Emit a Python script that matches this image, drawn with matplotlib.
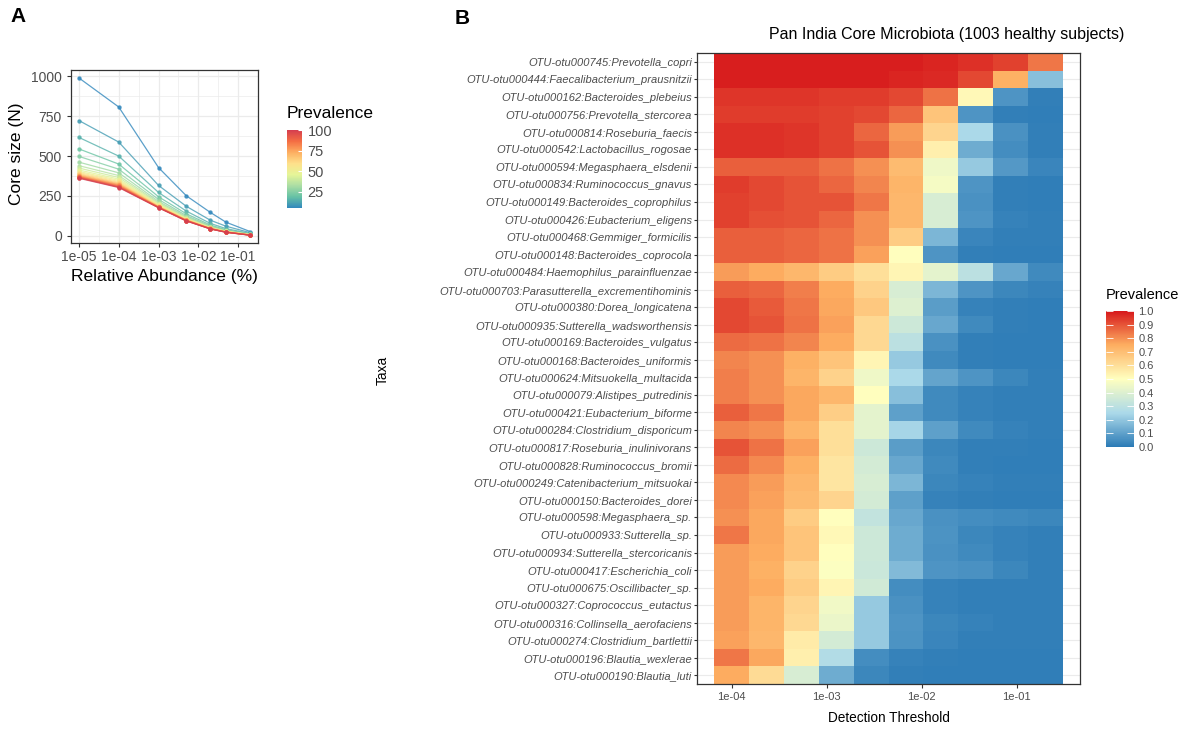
import numpy as np
import matplotlib
matplotlib.use("Agg")
import matplotlib.pyplot as plt
from matplotlib.colors import LinearSegmentedColormap, Normalize
from matplotlib.cm import ScalarMappable
from matplotlib.ticker import FixedLocator, NullFormatter

plt.rcParams['font.family'] = ['Liberation Sans', 'DejaVu Sans']

# ---------------- Panel A data ----------------
abundance = [1e-5, 1e-4, 1e-3, 5e-3, 2e-2, 5e-2, 2e-1]
prevalence_levels = [5, 10, 15, 20, 25, 30, 35, 40, 45, 50,
                     55, 60, 65, 70, 75, 80, 85, 90, 95, 100]
core_size = [
    [990, 808, 428, 251, 147, 85, 27],
    [723, 588, 316, 185, 98, 60, 20],
    [617, 500, 272, 155, 78, 45, 15],
    [545, 450, 245, 138, 68, 38, 12],
    [498, 418, 228, 127, 62, 34, 10],
    [462, 395, 216, 120, 58, 32, 9],
    [440, 378, 208, 115, 55, 30, 8],
    [425, 366, 202, 111, 53, 29, 8],
    [413, 356, 197, 108, 51, 28, 7],
    [404, 348, 193, 106, 50, 27, 7],
    [397, 341, 190, 104, 49, 26, 6],
    [391, 335, 187, 102, 48, 26, 6],
    [386, 330, 185, 100, 47, 25, 6],
    [381, 325, 183, 99, 46, 25, 5],
    [377, 321, 181, 98, 46, 24, 5],
    [373, 317, 180, 97, 45, 24, 5],
    [370, 313, 179, 96, 45, 23, 5],
    [367, 309, 178, 95, 44, 23, 4],
    [364, 306, 177, 94, 44, 22, 4],
    [361, 303, 176, 93, 43, 22, 4],
]
abundance_ticks = [1e-5, 1e-4, 1e-3, 1e-2, 1e-1]
abundance_ticklabels = ['1e-05', '1e-04', '1e-03', '1e-02', '1e-01']
core_ticks = [0, 250, 500, 750, 1000]

# ---------------- Panel B data ----------------
taxa = [
    "OTU-otu000745:Prevotella_copri",
    "OTU-otu000444:Faecalibacterium_prausnitzii",
    "OTU-otu000162:Bacteroides_plebeius",
    "OTU-otu000756:Prevotella_stercorea",
    "OTU-otu000814:Roseburia_faecis",
    "OTU-otu000542:Lactobacillus_rogosae",
    "OTU-otu000594:Megasphaera_elsdenii",
    "OTU-otu000834:Ruminococcus_gnavus",
    "OTU-otu000149:Bacteroides_coprophilus",
    "OTU-otu000426:Eubacterium_eligens",
    "OTU-otu000468:Gemmiger_formicilis",
    "OTU-otu000148:Bacteroides_coprocola",
    "OTU-otu000484:Haemophilus_parainfluenzae",
    "OTU-otu000703:Parasutterella_excrementihominis",
    "OTU-otu000380:Dorea_longicatena",
    "OTU-otu000935:Sutterella_wadsworthensis",
    "OTU-otu000169:Bacteroides_vulgatus",
    "OTU-otu000168:Bacteroides_uniformis",
    "OTU-otu000624:Mitsuokella_multacida",
    "OTU-otu000079:Alistipes_putredinis",
    "OTU-otu000421:Eubacterium_biforme",
    "OTU-otu000284:Clostridium_disporicum",
    "OTU-otu000817:Roseburia_inulinivorans",
    "OTU-otu000828:Ruminococcus_bromii",
    "OTU-otu000249:Catenibacterium_mitsuokai",
    "OTU-otu000150:Bacteroides_dorei",
    "OTU-otu000598:Megasphaera_sp.",
    "OTU-otu000933:Sutterella_sp.",
    "OTU-otu000934:Sutterella_stercoricanis",
    "OTU-otu000417:Escherichia_coli",
    "OTU-otu000675:Oscillibacter_sp.",
    "OTU-otu000327:Coprococcus_eutactus",
    "OTU-otu000316:Collinsella_aerofaciens",
    "OTU-otu000274:Clostridium_bartlettii",
    "OTU-otu000196:Blautia_wexlerae",
    "OTU-otu000190:Blautia_luti",
]
detections = [1.0e-4, 2.326e-4, 5.415e-4, 1.2596e-3, 2.930e-3,
              6.822e-3, 1.587e-2, 3.693e-2, 8.594e-2, 2.0e-1]
prevalence_matrix = [
    [0.99, 0.99, 0.99, 0.99, 0.99, 0.99, 0.98, 0.96, 0.93, 0.84],
    [0.99, 0.99, 0.99, 0.99, 0.99, 0.98, 0.97, 0.92, 0.74, 0.18],
    [0.95, 0.95, 0.95, 0.94, 0.94, 0.92, 0.85, 0.52, 0.07, 0.015],
    [0.94, 0.94, 0.94, 0.93, 0.92, 0.87, 0.68, 0.07, 0.015, 0.01],
    [0.96, 0.96, 0.95, 0.93, 0.87, 0.78, 0.63, 0.25, 0.06, 0.015],
    [0.96, 0.96, 0.95, 0.93, 0.90, 0.80, 0.55, 0.13, 0.05, 0.015],
    [0.88, 0.88, 0.88, 0.85, 0.80, 0.71, 0.45, 0.21, 0.08, 0.03],
    [0.94, 0.92, 0.90, 0.87, 0.82, 0.73, 0.47, 0.07, 0.015, 0.01],
    [0.93, 0.92, 0.90, 0.90, 0.84, 0.72, 0.38, 0.06, 0.015, 0.01],
    [0.93, 0.91, 0.90, 0.87, 0.80, 0.72, 0.38, 0.07, 0.02, 0.015],
    [0.88, 0.88, 0.87, 0.85, 0.80, 0.66, 0.16, 0.03, 0.015, 0.015],
    [0.88, 0.88, 0.87, 0.85, 0.77, 0.50, 0.07, 0.015, 0.01, 0.01],
    [0.78, 0.75, 0.72, 0.66, 0.60, 0.53, 0.42, 0.30, 0.12, 0.04],
    [0.88, 0.87, 0.83, 0.75, 0.64, 0.38, 0.16, 0.07, 0.035, 0.02],
    [0.92, 0.89, 0.84, 0.76, 0.67, 0.40, 0.09, 0.02, 0.015, 0.01],
    [0.92, 0.90, 0.85, 0.77, 0.62, 0.35, 0.12, 0.04, 0.015, 0.01],
    [0.86, 0.85, 0.82, 0.75, 0.62, 0.30, 0.06, 0.015, 0.01, 0.01],
    [0.82, 0.80, 0.74, 0.68, 0.53, 0.21, 0.04, 0.015, 0.01, 0.01],
    [0.83, 0.80, 0.73, 0.64, 0.45, 0.25, 0.11, 0.07, 0.035, 0.015],
    [0.83, 0.80, 0.76, 0.72, 0.50, 0.18, 0.04, 0.02, 0.015, 0.015],
    [0.88, 0.84, 0.76, 0.65, 0.42, 0.10, 0.04, 0.02, 0.015, 0.015],
    [0.82, 0.80, 0.73, 0.60, 0.42, 0.24, 0.10, 0.04, 0.02, 0.015],
    [0.90, 0.85, 0.77, 0.60, 0.35, 0.09, 0.035, 0.015, 0.015, 0.01],
    [0.86, 0.81, 0.74, 0.58, 0.37, 0.12, 0.04, 0.015, 0.01, 0.01],
    [0.81, 0.78, 0.72, 0.58, 0.38, 0.16, 0.035, 0.02, 0.015, 0.015],
    [0.81, 0.77, 0.71, 0.63, 0.37, 0.10, 0.02, 0.015, 0.01, 0.01],
    [0.80, 0.76, 0.66, 0.50, 0.32, 0.12, 0.06, 0.05, 0.04, 0.035],
    [0.84, 0.76, 0.68, 0.52, 0.35, 0.13, 0.065, 0.035, 0.02, 0.015],
    [0.78, 0.75, 0.68, 0.50, 0.35, 0.13, 0.06, 0.04, 0.02, 0.015],
    [0.78, 0.74, 0.64, 0.49, 0.34, 0.17, 0.07, 0.06, 0.035, 0.015],
    [0.78, 0.75, 0.66, 0.53, 0.36, 0.05, 0.02, 0.015, 0.015, 0.015],
    [0.78, 0.73, 0.63, 0.46, 0.21, 0.06, 0.02, 0.015, 0.015, 0.015],
    [0.78, 0.73, 0.62, 0.44, 0.21, 0.07, 0.035, 0.02, 0.015, 0.015],
    [0.77, 0.72, 0.56, 0.37, 0.21, 0.065, 0.03, 0.015, 0.015, 0.015],
    [0.84, 0.76, 0.55, 0.27, 0.05, 0.02, 0.015, 0.01, 0.01, 0.01],
    [0.75, 0.61, 0.38, 0.13, 0.035, 0.015, 0.01, 0.01, 0.01, 0.01],
]
detection_ticks = [1e-4, 1e-3, 1e-2, 1e-1]
detection_ticklabels = ['1e-04', '1e-03', '1e-02', '1e-01']
colorbar_ticks_B = [0.0, 0.1, 0.2, 0.3, 0.4, 0.5, 0.6, 0.7, 0.8, 0.9, 1.0]

# ---------------- styling ----------------
W, H = 1196, 729
GRID = '#ebebeb'
BORDER = '#333333'
TICKTXT = '#4d4d4d'

cmapA = LinearSegmentedColormap.from_list(
    'spec', ['#3288bd', '#66c2a5', '#abdda4', '#e6f598', '#fee08b',
             '#fdae61', '#f46d43', '#d53e4f'])
normA = Normalize(vmin=5, vmax=100)
cmapB = LinearSegmentedColormap.from_list(
    'rdylbu', ['#2c7bb6', '#abd9e9', '#ffffbf', '#fdae61', '#d7191c'])
normB = Normalize(vmin=0, vmax=1)

fig = plt.figure(figsize=(W / 100, H / 100), dpi=100)


def fx(px):
    return px / W


def fy(py):
    return 1 - py / H


def style_axes(ax):
    for s in ax.spines.values():
        s.set_color(BORDER)
        s.set_linewidth(0.9)
    ax.tick_params(which='major', color=BORDER, length=3, width=0.8,
                   labelcolor=TICKTXT)
    ax.tick_params(which='minor', length=0)


# ---------------- Panel A ----------------
axA = fig.add_axes([fx(71), fy(243), fx(258 - 71), (243 - 70) / H])
axA.set_xscale('log')
for p, sizes in zip(prevalence_levels, core_size):
    c = cmapA(normA(p))
    axA.plot(abundance, sizes, color=c, lw=0.9, alpha=0.8,
             marker='o', ms=2.2, zorder=3)
axA.set_xlim(10 ** -5.2, 10 ** -0.5)
axA.set_ylim(-45, 1040)
axA.xaxis.set_major_locator(FixedLocator(abundance_ticks))
axA.set_xticklabels(abundance_ticklabels)
axA.xaxis.set_minor_locator(FixedLocator([10 ** -4.5, 10 ** -3.5, 10 ** -2.5,
                                          10 ** -1.5, 10 ** -0.5]))
axA.xaxis.set_minor_formatter(NullFormatter())
axA.yaxis.set_major_locator(FixedLocator(core_ticks))
axA.yaxis.set_minor_locator(FixedLocator([125, 375, 625, 875]))
axA.grid(which='major', color=GRID, lw=0.9, zorder=0)
axA.grid(which='minor', color=GRID, lw=0.5, zorder=0)
axA.set_axisbelow(True)
style_axes(axA)
axA.tick_params(labelsize=10)
axA.tick_params(axis='x', pad=2)

fig.text(fx(17), fy(154), 'Core size (N)', rotation=90, ha='center',
         va='center', fontsize=12.5)
fig.text(fx(164), fy(276), 'Relative Abundance (%)', ha='center',
         va='center', fontsize=12.5)
fig.text(fx(10), fy(17), 'A', ha='left', va='center', fontsize=15,
         fontweight='bold')

# legend A
caxA = fig.add_axes([fx(287), fy(208), fx(302 - 287), (208 - 130) / H])
cbA = fig.colorbar(ScalarMappable(norm=normA, cmap=cmapA), cax=caxA,
                   ticks=[25, 50, 75, 100])
cbA.outline.set_visible(False)
caxA.tick_params(length=3, color='white', width=0.8, direction='in',
                 labelsize=10.5, labelcolor=TICKTXT, pad=4)
fig.text(fx(287), fy(113), 'Prevalence', ha='left', va='center',
         fontsize=12.5)

# ---------------- Panel B ----------------
axB = fig.add_axes([fx(697), fy(684), fx(1080 - 697), (684 - 53) / H])
axB.set_xscale('log')
logc = np.log10(detections)
half = (logc[1] - logc[0]) / 2
xedges = 10 ** np.concatenate([logc - half, [logc[-1] + half]])
yedges = np.arange(len(taxa) + 1) - 0.5
axB.pcolormesh(xedges, yedges, np.array(prevalence_matrix), cmap=cmapB,
               norm=normB, zorder=2)
lo, hi = np.log10(xedges[0]), np.log10(xedges[-1])
pad = 0.05 * (hi - lo)
axB.set_xlim(10 ** (lo - pad), 10 ** (hi + pad))
axB.set_ylim(len(taxa) - 0.5, -0.5)
axB.xaxis.set_major_locator(FixedLocator(detection_ticks))
axB.set_xticklabels(detection_ticklabels)
axB.xaxis.set_minor_locator(FixedLocator([10 ** -3.5, 10 ** -2.5, 10 ** -1.5]))
axB.xaxis.set_minor_formatter(NullFormatter())
axB.set_yticks(range(len(taxa)))
axB.set_yticklabels(taxa, fontstyle='italic')
axB.grid(which='major', color=GRID, lw=0.8, zorder=0)
axB.grid(which='minor', axis='x', color=GRID, lw=0.5, zorder=0)
axB.set_axisbelow(True)
style_axes(axB)
axB.tick_params(axis='y', labelsize=8.0, pad=1, length=2.5)
axB.tick_params(axis='x', labelsize=8, pad=3)

fig.text(fx(947), fy(35), 'Pan India Core Microbiota (1003 healthy subjects)',
         ha='center', va='center', fontsize=11.5)
fig.text(fx(889), fy(718), 'Detection Threshold', ha='center', va='center',
         fontsize=9.8)
fig.text(fx(383), fy(370), 'Taxa', rotation=90, ha='center', va='center',
         fontsize=9.8)
fig.text(fx(455), fy(18), 'B', ha='left', va='center', fontsize=15,
         fontweight='bold')

# legend B
caxB = fig.add_axes([fx(1106), fy(447), fx(1134 - 1106), (447 - 311) / H])
cbB = fig.colorbar(ScalarMappable(norm=normB, cmap=cmapB), cax=caxB,
                   ticks=colorbar_ticks_B)
cbB.outline.set_visible(False)
caxB.set_yticklabels(['%.1f' % t for t in colorbar_ticks_B])
caxB.yaxis.set_ticks_position('both')
caxB.tick_params(length=5, color='white', width=0.6, direction='in',
                 labelsize=8, labelcolor=TICKTXT, pad=3)
fig.text(fx(1106), fy(295), 'Prevalence', ha='left', va='center',
         fontsize=10.5)

fig.savefig('out.png', dpi=100)
